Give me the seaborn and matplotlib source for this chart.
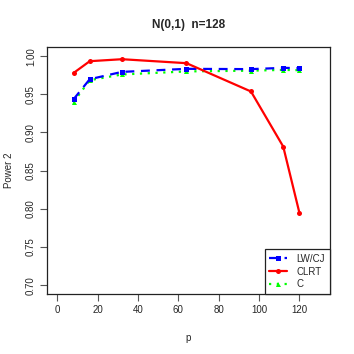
import numpy as np
import pandas as pd
import matplotlib
matplotlib.use("Agg")
import matplotlib.pyplot as plt
import seaborn as sns

p_vals = [8, 16, 32, 64, 96, 112, 120]
lwcj = [0.9436, 0.9698, 0.9794, 0.9834, 0.9830, 0.9847, 0.9843]
clrt = [0.9780, 0.9934, 0.9960, 0.9908, 0.9537, 0.8815, 0.7950]
c_vals = [0.9400, 0.9685, 0.9760, 0.9800, 0.9810, 0.9820, 0.9816]
series_names = ["LW/CJ", "CLRT", "C"]
title = "N(0,1)  n=128"

sns.set_theme(style="white")
plt.rcParams['font.family'] = ['Liberation Sans', 'DejaVu Sans']

fig = plt.figure(figsize=(3.54, 3.54), dpi=100)
ax = fig.add_axes([47/354, 1 - 294.3/354, (330-47)/354, (294.3-47)/354])

df = pd.DataFrame({"p": p_vals * 3,
                   "power": lwcj + clrt + c_vals,
                   "series": [series_names[0]] * 7 + [series_names[1]] * 7 + [series_names[2]] * 7})

styles = {
    "LW/CJ": dict(color="#0000FF", linestyle=(0, (4, 3)), marker="s"),
    "CLRT": dict(color="#FF0000", linestyle="-", marker="o"),
    "C": dict(color="#00FF00", linestyle=(0, (1, 2.5)), marker="^"),
}
for name in ["C", "LW/CJ", "CLRT"]:
    st = styles[name]
    sns.lineplot(data=df[df.series == name], x="p", y="power", ax=ax,
                 color=st["color"], linestyle=st["linestyle"], marker=st["marker"],
                 markersize=3.6, markeredgewidth=0, linewidth=1.6, label=name,
                 legend=False)

ax.set_xlim(-5.2, 135.2)
ax.set_ylim(0.688, 1.012)
ax.set_xticks([0, 20, 40, 60, 80, 100, 120])
ax.set_yticks([0.70, 0.75, 0.80, 0.85, 0.90, 0.95, 1.00])
ax.set_yticklabels(["0.70", "0.75", "0.80", "0.85", "0.90", "0.95", "1.00"],
                   rotation=90, va="center")
ax.tick_params(axis="both", direction="out", length=5, width=0.8, color="#555555",
               labelsize=7, pad=3, left=True, bottom=True)
for s in ax.spines.values():
    s.set_visible(True)
    s.set_color("#222222")
    s.set_linewidth(0.9)
ax.set_xlabel("p", fontsize=7, labelpad=13)
ax.set_ylabel("Power 2", fontsize=7, labelpad=8.5)
ax.set_title(title, fontsize=8.5, fontweight="bold", pad=13.5)
ax.grid(False)

from matplotlib.lines import Line2D
handles = [Line2D([], [], color=styles[n]["color"], linestyle=styles[n]["linestyle"],
                  marker=styles[n]["marker"], markersize=3.6, markeredgewidth=0, linewidth=1.6)
           for n in series_names]
leg = ax.legend(handles, series_names, loc="lower right", bbox_to_anchor=(1, 0),
                borderaxespad=0, fontsize=7, frameon=True, fancybox=False,
                handlelength=1.8, handletextpad=1.0, labelspacing=0.3, borderpad=0.5)
leg.get_frame().set_edgecolor("#222222")
leg.get_frame().set_linewidth(0.9)
leg.get_frame().set_alpha(1)

fig.savefig("out.png", dpi=100)
